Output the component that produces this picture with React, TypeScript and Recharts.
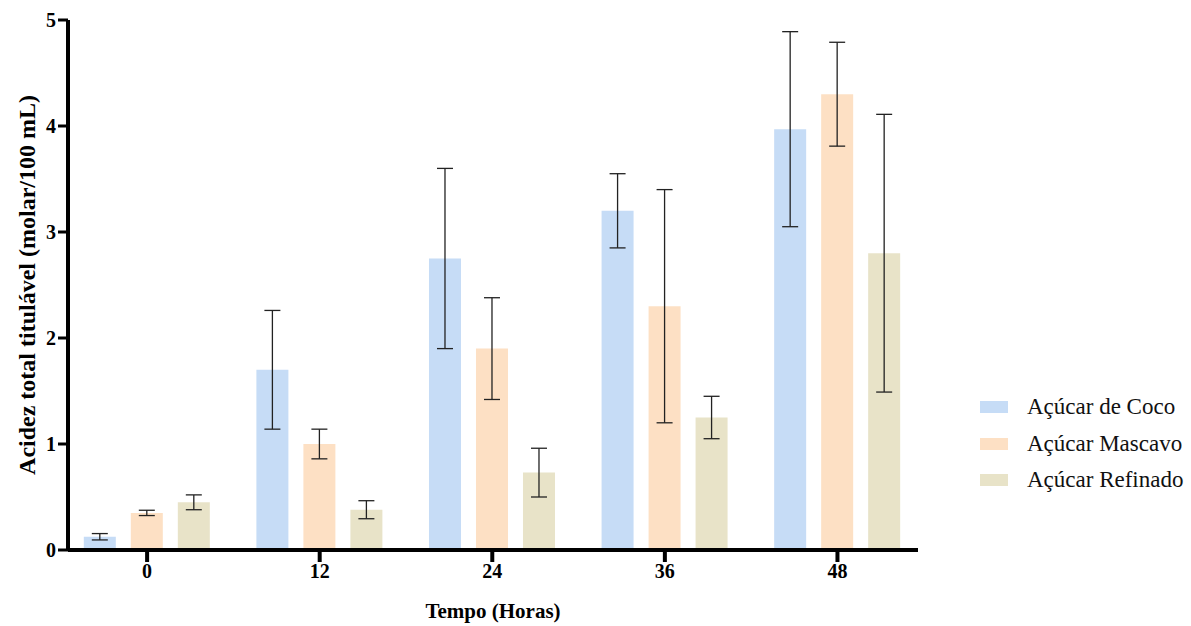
import React from 'react';
import { BarChart, Bar, XAxis, YAxis, ErrorBar } from 'recharts';

// tempo em horas
const horas = [0, 12, 24, 36, 48];

const coco = [0.125, 1.7, 2.75, 3.2, 3.97];
const cocoErr = [0.03, 0.56, 0.85, 0.35, 0.92];
const mascavo = [0.35, 1.0, 1.9, 2.3, 4.3];
const mascavoErr = [0.025, 0.14, 0.48, 1.1, 0.49];
const refinado = [0.45, 0.38, 0.73, 1.25, 2.8];
const refinadoErr = [0.07, 0.085, 0.23, 0.2, 1.31];

const yTicks = [0, 1, 2, 3, 4, 5];

const series = [
  { key: 'coco', err: 'cocoErr', name: 'Açúcar de Coco', color: '#c6dcf6' },
  { key: 'mascavo', err: 'mascavoErr', name: 'Açúcar Mascavo', color: '#fde0c4' },
  { key: 'refinado', err: 'refinadoErr', name: 'Açúcar Refinado', color: '#e8e3c8' },
];

const data = horas.map((h, i) => ({
  time: h,
  coco: coco[i],
  cocoErr: cocoErr[i],
  mascavo: mascavo[i],
  mascavoErr: mascavoErr[i],
  refinado: refinado[i],
  refinadoErr: refinadoErr[i],
}));

const serif = "'Times New Roman', 'Liberation Serif', Tinos, 'Noto Serif', 'DejaVu Serif', serif";

const App = () => {
  return (
    <div style={{ position: 'absolute', left: 0, top: 0, width: 1191, height: 626, background: '#fff', fontFamily: serif }}>
      <BarChart
        width={1191}
        height={626}
        data={data}
        margin={{ top: 20, right: 273, left: 0, bottom: 0 }}
        barSize={32}
        barGap={15}
        style={{ fontFamily: serif }}
      >
        <XAxis
          dataKey="time"
          type="number"
          domain={[-5.5, 53.6]}
          ticks={horas}
          height={76}
          stroke="#000"
          axisLine={{ stroke: '#000', strokeWidth: 4 }}
          tickLine={{ stroke: '#000', strokeWidth: 4 }}
          tickSize={12}
          tick={{ fill: '#000', fontSize: 20, fontWeight: 'bold', style: { fontFamily: serif } }}
          label={{ value: 'Tempo (Horas)', position: 'insideBottom', offset: 8, fill: '#000', fontSize: 21, fontWeight: 'bold', style: { fontFamily: serif } }}
        />
        <YAxis
          domain={[0, 5]}
          ticks={yTicks}
          width={68}
          stroke="#000"
          axisLine={{ stroke: '#000', strokeWidth: 4 }}
          tickLine={{ stroke: '#000', strokeWidth: 3 }}
          tickSize={10}
          tick={{ fill: '#000', fontSize: 20, fontWeight: 'bold', style: { fontFamily: serif } }}
          label={{ value: 'Acidez total titulável (molar/100 mL)', angle: -90, position: 'center', dx: -8, fill: '#000', fontSize: 24, fontWeight: 'bold', style: { fontFamily: serif } }}
        />
        {series.map(s => (
          <Bar key={s.key} dataKey={s.key} name={s.name} fill={s.color} isAnimationActive={false}>
            <ErrorBar dataKey={s.err} direction="y" width={8} stroke="#222" strokeWidth={1.3} />
          </Bar>
        ))}
      </BarChart>

      {/* legenda */}
      <div style={{ position: 'absolute', left: 980, top: 389 }}>
        {series.map(s => (
          <div key={s.key} style={{ display: 'flex', alignItems: 'center', height: 36.5 }}>
            <div style={{ width: 28, height: 12, background: s.color, marginRight: 19 }} />
            <span style={{ fontSize: 23, color: '#111', fontFamily: serif }}>{s.name}</span>
          </div>
        ))}
      </div>
    </div>
  );
};

export default App;
